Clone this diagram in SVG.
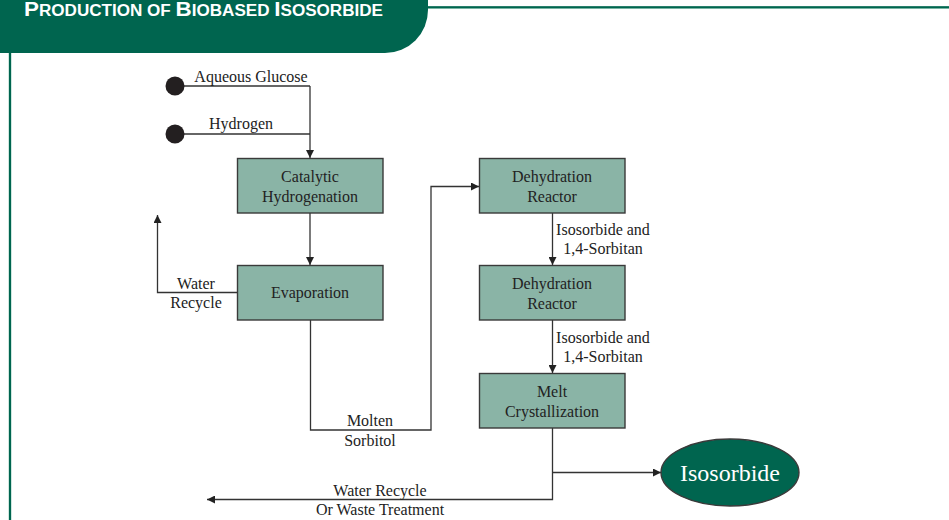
<svg xmlns="http://www.w3.org/2000/svg" width="949" height="520" viewBox="0 0 949 520">
<defs>
<style>
.box{fill:#8ab4a6;stroke:#3a3a3a;stroke-width:1.4}
.t{font-family:"Liberation Serif","Times New Roman",serif;font-size:16px;fill:#222;text-anchor:middle}
.c{fill:none;stroke:#333;stroke-width:1.3}
.title{font-family:"Liberation Sans",Arial,sans-serif;font-weight:bold;fill:#fff}
</style>
<marker id="ah" viewBox="0 0 10 10" refX="10" refY="5" markerWidth="8" markerHeight="8" markerUnits="userSpaceOnUse" orient="auto">
<path d="M0,0 L10,5 L0,10 Z" fill="#222"/>
</marker>
</defs>
<rect width="949" height="520" fill="#fff"/>
<g id="header">
<path d="M0,0 H428 V10 A43,43 0 0 1 385,53 H0 Z" fill="#00654f"/>
<line x1="428" y1="7.5" x2="949" y2="7.5" stroke="#9fd0c0" stroke-width="3"/>
<line x1="428" y1="7.3" x2="949" y2="7.3" stroke="#00654f" stroke-width="2"/>
<line x1="10" y1="53" x2="10" y2="520" stroke="#9fd0c0" stroke-width="3"/>
<line x1="10" y1="53" x2="10" y2="520" stroke="#00654f" stroke-width="2"/>
<text class="title" x="24" y="16" textLength="359" lengthAdjust="spacingAndGlyphs"><tspan font-size="21">P</tspan><tspan font-size="16">RODUCTION OF </tspan><tspan font-size="21">B</tspan><tspan font-size="16">IOBASED </tspan><tspan font-size="21">I</tspan><tspan font-size="16">SOSORBIDE</tspan></text>
</g>
<g id="connectors">
<line class="c" x1="175" y1="86" x2="310" y2="86"/>
<line class="c" x1="175" y1="134" x2="310" y2="134"/>
<line class="c" x1="310" y1="86" x2="310" y2="158" marker-end="url(#ah)"/>
<line class="c" x1="310" y1="213" x2="310" y2="265" marker-end="url(#ah)"/>
<polyline class="c" points="237,292.5 157.5,292.5 157.5,215" marker-end="url(#ah)"/>
<polyline class="c" points="310.5,320 310.5,430 431,430 431,186.5 479,186.5" marker-end="url(#ah)"/>
<line class="c" x1="552.5" y1="213" x2="552.5" y2="265" marker-end="url(#ah)"/>
<line class="c" x1="552.5" y1="320" x2="552.5" y2="373" marker-end="url(#ah)"/>
<polyline class="c" points="552.5,428 552.5,499.5 207,499.5" marker-end="url(#ah)"/>
<line class="c" x1="552.5" y1="472.5" x2="661" y2="472.5" marker-end="url(#ah)"/>
<text class="t" x="251" y="82">Aqueous Glucose</text>
<text class="t" x="241" y="129">Hydrogen</text>
<text class="t" x="196" y="289">Water</text>
<text class="t" x="196" y="308">Recycle</text>
<text class="t" x="370" y="426">Molten</text>
<text class="t" x="370" y="446">Sorbitol</text>
<text class="t" x="603" y="235">Isosorbide and</text>
<text class="t" x="603" y="254">1,4-Sorbitan</text>
<text class="t" x="603" y="343">Isosorbide and</text>
<text class="t" x="603" y="362">1,4-Sorbitan</text>
<text class="t" x="380" y="496">Water Recycle</text>
<text class="t" x="380" y="515">Or Waste Treatment</text>
</g>
<g id="src-glucose"><circle cx="175" cy="86" r="9.5" fill="#231f20"/></g>
<g id="src-hydrogen"><circle cx="175" cy="134" r="9.5" fill="#231f20"/></g>
<g id="catalytic">
<rect class="box" x="237.5" y="158.5" width="145.5" height="54.5"/>
<text class="t" x="310" y="182">Catalytic</text>
<text class="t" x="310" y="202">Hydrogenation</text>
</g>
<g id="evaporation">
<rect class="box" x="237.5" y="265.5" width="145.5" height="54.5"/>
<text class="t" x="310" y="298">Evaporation</text>
</g>
<g id="dehydration1">
<rect class="box" x="479.5" y="158.5" width="145.5" height="54.5"/>
<text class="t" x="552" y="182">Dehydration</text>
<text class="t" x="552" y="202">Reactor</text>
</g>
<g id="dehydration2">
<rect class="box" x="479.5" y="265.5" width="145.5" height="54.5"/>
<text class="t" x="552" y="289">Dehydration</text>
<text class="t" x="552" y="309">Reactor</text>
</g>
<g id="melt">
<rect class="box" x="479.5" y="373.5" width="145.5" height="54.5"/>
<text class="t" x="552" y="397">Melt</text>
<text class="t" x="552" y="417">Crystallization</text>
</g>
<g id="isosorbide">
<ellipse cx="730" cy="472.5" rx="69" ry="33.5" fill="#00654f" stroke="#3a3a3a" stroke-width="1.4"/>
<text x="730" y="481" font-family="Liberation Serif,'Times New Roman',serif" font-size="24" fill="#fff" text-anchor="middle">Isosorbide</text>
</g>
</svg>
